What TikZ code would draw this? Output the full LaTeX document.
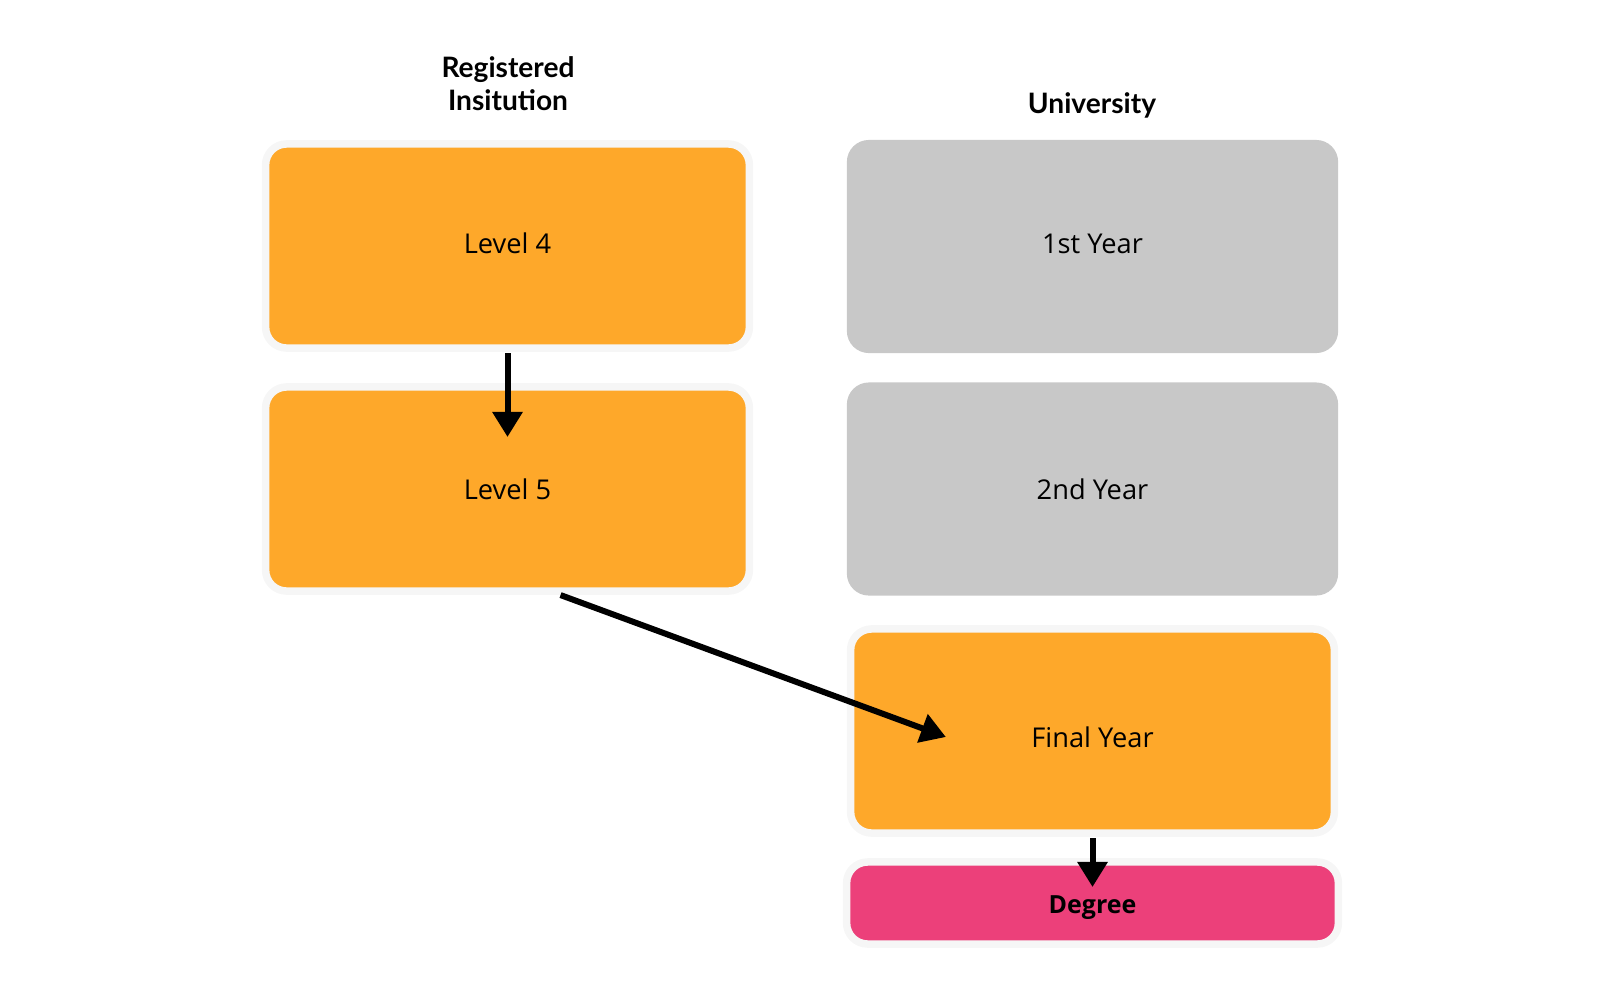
\documentclass[tikz,border=0pt]{standalone}
\usepackage{fontspec}
\setmainfont{Open Sans}
\newfontfamily\headfont{Lato}
\usetikzlibrary{arrows.meta,positioning}
\definecolor{stageorange}{HTML}{FEA82A}
\definecolor{stagegray}{HTML}{C8C8C8}
\definecolor{degreepink}{HTML}{EC407A}
\definecolor{rimgray}{HTML}{F6F6F6}

\begin{document}
\begin{tikzpicture}[x=0.01cm,y=-0.01cm,>={Triangle[width=0.29cm,length=0.25cm]},
  stage/.style={draw=rimgray,line width=0.075cm,fill=stageorange,rounded corners=0.21cm,
    minimum width=4.835cm,minimum height=2.04cm,inner sep=0pt,outer sep=0pt,
    font=\fontsize{7.75}{9}\selectfont},
  uniyear/.style={stage,draw=none,fill=stagegray,rounded corners=0.22cm,
    minimum width=4.91cm,minimum height=2.13cm},
  degbox/.style={stage,fill=degreepink,minimum width=4.915cm,minimum height=0.82cm,
    font=\fontsize{7.1}{9}\selectfont\bfseries},
  colhead/.style={align=center,font=\headfont\bfseries\fontsize{8}{9.4}\selectfont},
  flow/.style={->,line width=0.06cm}]

\useasboundingbox (0,0) rectangle (1600,1000);

\node[colhead] (rihead) at (508,84) {Registered\\Insitution};
\node[colhead] (unihead) at (1092,105) {University};

\node[stage] (l4) at (507.5,246) {\raisebox{0.03cm}[\height][\depth]{Level 4}};
\node[stage] (l5) at (507.5,489) {Level 5};

\node[uniyear] (y1) at (1092.5,246.5) {\raisebox{0.03cm}[\height][\depth]{1st Year}};
\node[uniyear] (y2) at (1092.5,489) {2nd Year};
\node[stage] (fy) at (1092.5,731) {\raisebox{-0.06cm}[\height][\depth]{Final Year}};
\node[degbox] (deg) at (1092.5,903) {\raisebox{-0.05cm}[\height][\depth]{Degree}};

\coordinate[above=0.52cm of l5.center] (l5in);
\coordinate[below right=0.04cm and 0.53cm of l5.south] (l5out);
\coordinate[below left=0.06cm and 1.465cm of fy.center] (fyin);
\coordinate[above=0.16cm of deg.center] (degin);

\draw[flow,shorten <=0.05cm] (l4.south) -- (l5in);
\draw[flow] (l5out) -- (fyin);
\draw[flow,shorten <=0.05cm] (fy.south) -- (degin);

\end{tikzpicture}
\end{document}
